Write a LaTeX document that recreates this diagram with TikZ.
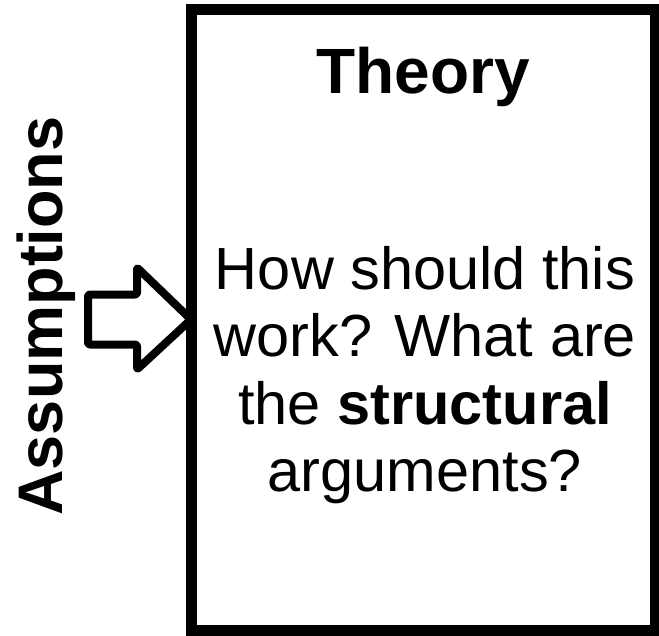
\documentclass[tikz,border=0pt]{standalone}
\usepackage{fontspec}
\setmainfont{Liberation Sans}
\usetikzlibrary{positioning, calc}

\begin{document}
\begin{tikzpicture}[
    x=1pt, y=-1pt,
    frame/.style={rectangle, draw, line width=11pt, minimum width=464pt, minimum height=621pt, outer sep=0pt, inner sep=0pt},
    title/.style={font=\fontsize{64}{70}\selectfont\bfseries, anchor=base, inner sep=0pt},
    body/.style={font=\fontsize{59.5}{67.5}\selectfont, align=center, inner sep=0pt},
    sidelabel/.style={font=\fontsize{63}{70}\selectfont\bfseries, rotate=90, anchor=base, inner sep=0pt},
    fatarrow/.style={draw, line width=8pt, line join=round, rounded corners=2pt}
]
    \useasboundingbox (0,0) rectangle (659,635);

    \node [frame] (theory) at (423,319.5) {};
    \node [title] (head) at (423,93) {Theory};
    \node [body] (question) at (425,375) {How should this\\work? What are\\the \textbf{structural}\\arguments?};

    \node [sidelabel] (assume) at (62,316) {Assumptions};

    % block arrow into the frame
    \draw [fatarrow] (theory.west) -- ++(-54,-52) -- ++(0,27) -- ++(-49,0)
        -- ++(0,50) -- ++(49,0) -- ++(0,25) -- cycle;
\end{tikzpicture}
\end{document}
